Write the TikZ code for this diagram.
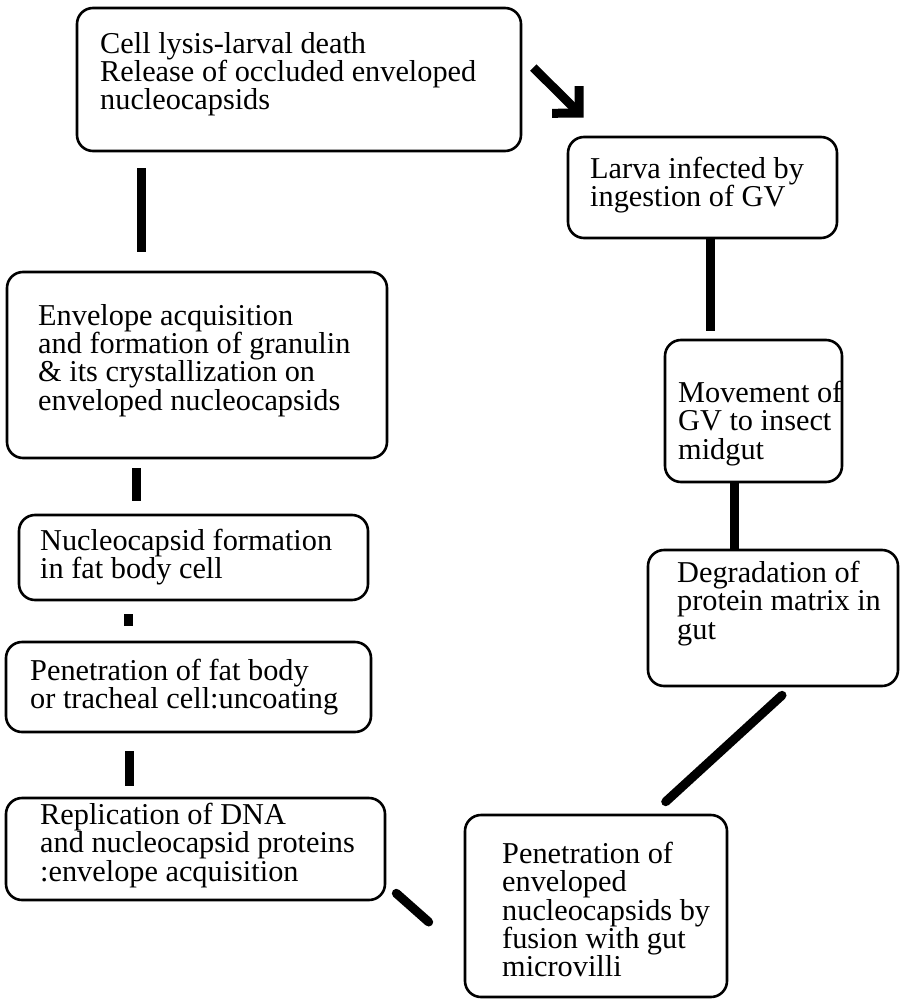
\documentclass[tikz,border=0pt]{standalone}
\usepackage{fontspec}
\setmainfont{Liberation Serif}
\usepackage{tikz}
\usetikzlibrary{arrows.meta,calc}
\tikzset{
  stagebox/.style={draw, rounded corners=16pt, line width=2.6pt, inner sep=0pt},
  stagetext/.style={anchor=north west, align=left, inner sep=0pt, font=\fontsize{30.3pt}{28.3pt}\selectfont},
  linkbar/.style={line width=9pt},
  linkarrow/.style={line width=9pt, -{Straight Barb[angle=90:27pt]}}
}

\begin{document}
\begin{tikzpicture}[x=1pt,y=-1pt]
\useasboundingbox (0,0) rectangle (900,1003);
% boxes
\node[stagebox, minimum width=444pt, minimum height=143pt] (lysis) at (299,79.5) {};
\node[stagebox, minimum width=269pt, minimum height=101pt] (larva) at (702.5,187.5) {};
\node[stagebox, minimum width=380pt, minimum height=186pt] (envelope) at (197,365) {};
\node[stagebox, minimum width=177pt, minimum height=142pt] (movement) at (753.5,411) {};
\node[stagebox, minimum width=349pt, minimum height=85pt] (nucleo) at (193.5,557.5) {};
\node[stagebox, minimum width=250pt, minimum height=136pt] (degrad) at (773,618) {};
\node[stagebox, minimum width=365pt, minimum height=90pt] (fatbody) at (188.5,687) {};
\node[stagebox, minimum width=379pt, minimum height=102pt] (replic) at (195.5,849) {};
\node[stagebox, minimum width=262pt, minimum height=182pt] (fusion) at (596,906) {};
% texts
\node[stagetext] (lysistext) at (100,32) {Cell lysis-larval death\\Release of occluded enveloped\\nucleocapsids};
\node[stagetext] (larvatext) at (590,157) {Larva infected by\\ingestion of GV};
\node[stagetext] (envelopetext) at (38,304) {Envelope acquisition\\and formation of granulin\\\& its crystallization on\\enveloped nucleocapsids};
\node[stagetext] (movementtext) at (678,381) {Movement of\\GV to insect\\midgut};
\node[stagetext] (nucleotext) at (40,529) {Nucleocapsid formation\\in fat body cell};
\node[stagetext] (degradtext) at (677,561) {Degradation of\\protein matrix in\\gut};
\node[stagetext] (fatbodytext) at (30,659) {Penetration of fat body\\or tracheal cell:uncoating};
\node[stagetext] (replictext) at (40,803) {Replication of DNA\\and nucleocapsid proteins\\:envelope acquisition};
\node[stagetext] (fusiontext) at (502,842) {Penetration of\\enveloped\\nucleocapsids by\\fusion with gut\\microvilli};
% links
\draw[linkarrow] ($(lysis.east)+(11,-12)$) -- ($(larva.north west)+(17,-18)$);
\draw[linkbar, shorten <=16pt, shorten >=19pt] (141,0 |- lysis.south) -- (141,0 |- envelope.north);
\draw[linkbar, shorten <=9pt, shorten >=13pt] (136,0 |- envelope.south) -- (136,0 |- nucleo.north);
\draw[linkbar, shorten <=13pt, shorten >=15pt] (128,0 |- nucleo.south) -- (128,0 |- fatbody.north);
\draw[linkbar, shorten <=18pt, shorten >=11pt] (129,0 |- fatbody.south) -- (129,0 |- replic.north);
\draw[linkbar, line cap=round] ($(replic.south east)+(10,-8)$) -- ($(fusion.west)+(-35,16)$);
\draw[linkbar, line cap=round] ($(fusion.north west)+(202,-12)$) -- ($(degrad.south)+(9,8)$);
\draw[linkbar] (734,0 |- movement.south) -- (734,0 |- degrad.north);
\draw[linkbar, shorten >=8pt] (710,0 |- larva.south) -- (710,0 |- movement.north);
\end{tikzpicture}
\end{document}
